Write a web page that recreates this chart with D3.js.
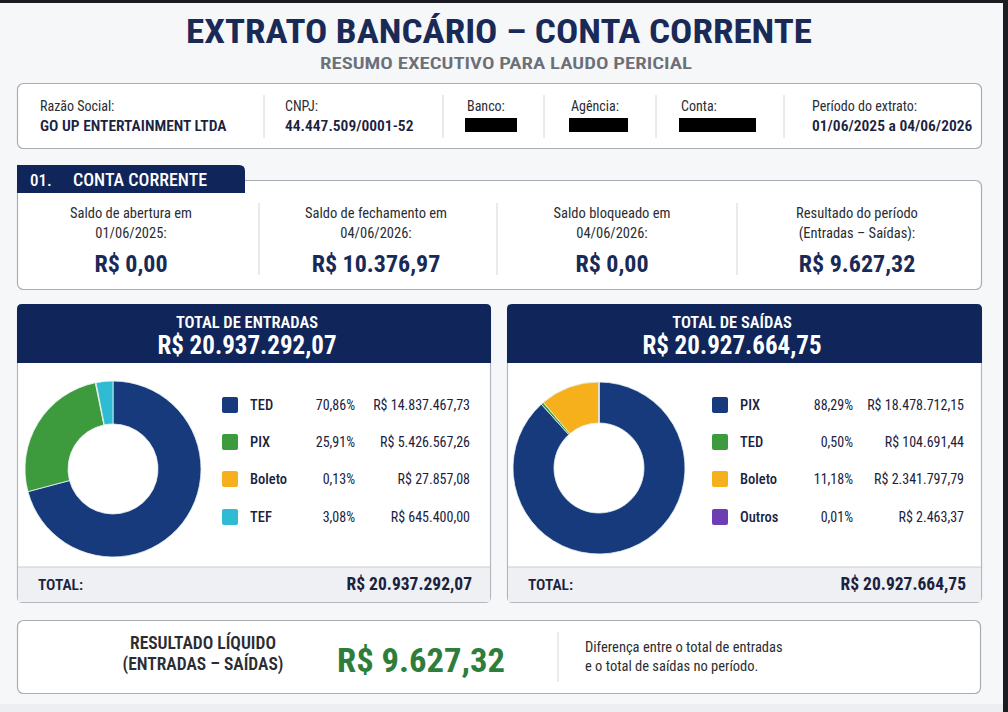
<!DOCTYPE html>
<html><head><meta charset="utf-8">
<script src="https://cdn.jsdelivr.net/npm/d3@7"></script>
<style>
html,body{margin:0;padding:0;background:#f6f7f9;}
svg{display:block;font-family:"Liberation Sans Narrow","Roboto Condensed","DejaVu Sans Condensed",sans-serif;}
</style></head>
<body><svg id="c" width="1008" height="712"></svg>
<script>
// ---- data ----
const title = "EXTRATO BANCÁRIO – CONTA CORRENTE";
const subtitle = "RESUMO EXECUTIVO PARA LAUDO PERICIAL";
const infoLabels = ["Razão Social:", "CNPJ:", "Banco:", "Agência:", "Conta:", "Período do extrato:"];
const infoValues = ["GO UP ENTERTAINMENT LTDA", "44.447.509/0001-52", null, null, null, "01/06/2025 a 04/06/2026"];
const saldoLabels1 = ["Saldo de abertura em", "Saldo de fechamento em", "Saldo bloqueado em", "Resultado do período"];
const saldoLabels2 = ["01/06/2025:", "04/06/2026:", "04/06/2026:", "(Entradas – Saídas):"];
const saldoValues = ["R$ 0,00", "R$ 10.376,97", "R$ 0,00", "R$ 9.627,32"];
const entCats = ["TED", "PIX", "Boleto", "TEF"];
const entPct = ["70,86%", "25,91%", "0,13%", "3,08%"];
const entVals = [14837467.73, 5426567.26, 27857.08, 645400.00];
const entValTxt = ["R$ 14.837.467,73", "R$ 5.426.567,26", "R$ 27.857,08", "R$ 645.400,00"];
const entTotal = "R$ 20.937.292,07";
const saiCats = ["PIX", "TED", "Boleto", "Outros"];
const saiPct = ["88,29%", "0,50%", "11,18%", "0,01%"];
const saiVals = [18478712.15, 104691.44, 2341797.79, 2463.37];
const saiValTxt = ["R$ 18.478.712,15", "R$ 104.691,44", "R$ 2.341.797,79", "R$ 2.463,37"];
const saiTotal = "R$ 20.927.664,75";
const resultado = "R$ 9.627,32";

const NAVY = "#10265a";
const colEnt = ["#173a7c", "#3d9a3d", "#f6b01c", "#2fbcd3"];
const colSai = ["#173a7c", "#3d9a3d", "#f6b01c", "#6b3fb3"];

const svg = d3.select("#c");
svg.append("rect").attr("width",1008).attr("height",712).attr("fill","#f6f7f9");
// frame
svg.append("rect").attr("x",0).attr("y",0).attr("width",1008).attr("height",3).attr("fill","#1c1c22");
svg.append("rect").attr("x",1003).attr("y",0).attr("width",5).attr("height",712).attr("fill","#1c1c22");
svg.append("rect").attr("x",0).attr("y",704).attr("width",1003).attr("height",8).attr("fill","#eceef1");

function txt(x,y,s,o={}){
  const t = svg.append("text").attr("x",x).attr("y",y).text(s)
    .attr("font-size",o.size||13).attr("font-weight",o.weight||"normal")
    .attr("fill",o.fill||"#222").attr("text-anchor",o.anchor||"start");
  if(o.w){ t.attr("textLength",o.w).attr("lengthAdjust","spacingAndGlyphs"); }
  return t;
}

// title
txt(499,43,title,{size:34,weight:"bold",fill:"#1a2a57",anchor:"middle",w:626});
txt(506,69,subtitle,{size:17,weight:"600",fill:"#6b6f78",anchor:"middle",w:372});

// info box
svg.append("rect").attr("x",17.5).attr("y",83.5).attr("width",964).attr("height",65).attr("rx",6)
  .attr("fill","#fff").attr("stroke","#a9adb3").attr("stroke-width",1.2);
const infoX = [40, 285, 467, 571, 681, 812];
const divX = [264, 443, 544, 656, 784];
divX.forEach(x=>svg.append("line").attr("x1",x).attr("x2",x).attr("y1",95).attr("y2",138).attr("stroke","#d3d6db"));
const boxW = [0,0,52,59,77,0];
infoLabels.forEach((l,i)=>{
  txt(infoX[i],111,l,{size:14,fill:"#2a2d33"});
  if(infoValues[i]) txt(infoX[i],131,infoValues[i],{size:15.5,weight:"600",fill:"#1a2240"});
  else svg.append("rect").attr("x",infoX[i]-2).attr("y",118).attr("width",boxW[i]).attr("height",14).attr("fill","#000");
});

// conta corrente box
svg.append("rect").attr("x",17.5).attr("y",180.5).attr("width",964).attr("height",109).attr("rx",6)
  .attr("fill","#fff").attr("stroke","#a9adb3").attr("stroke-width",1.2);
svg.append("path").attr("d","M17,193 L17,165 L239,165 Q245,165 245,171 L245,193 Z").attr("fill",NAVY);
txt(30,186,"01.",{size:17,weight:"500",fill:"#fff"});
txt(73,186,"CONTA CORRENTE",{size:18,weight:"500",fill:"#fff"});
const sx = [131, 376, 612, 857];
[259, 497, 737].forEach(x=>svg.append("line").attr("x1",x).attr("x2",x).attr("y1",203).attr("y2",275).attr("stroke","#d3d6db"));
sx.forEach((x,i)=>{
  txt(x,218,saldoLabels1[i],{size:14.5,fill:"#2a2d33",anchor:"middle"});
  txt(x,238,saldoLabels2[i],{size:14.5,fill:"#2a2d33",anchor:"middle"});
  txt(x,272,saldoValues[i],{size:24,weight:"bold",fill:"#1a2a57",anchor:"middle"});
});

// cards
function card(x0, w, mx, head, total, cats, pcts, vals, valTxt, cols, cx, cy, ro, ri, lx, pctR, valR){
  svg.append("rect").attr("x",x0+0.5).attr("y",304.5).attr("width",w).attr("height",298).attr("rx",5)
    .attr("fill","#fff").attr("stroke","#b4b8be").attr("stroke-width",1.2);
  svg.append("path").attr("d",`M${x0},363 L${x0},309 Q${x0},304 ${x0+5},304 L${x0+w-4},304 Q${x0+w+1},304 ${x0+w+1},309 L${x0+w+1},363 Z`).attr("fill",NAVY);
  txt(mx,328,head,{size:16.5,weight:"600",fill:"#fff",anchor:"middle"});
  txt(mx,354,total,{size:25,weight:"bold",fill:"#fff",anchor:"middle"});
  svg.append("rect").attr("x",x0+1).attr("y",567).attr("width",w-1).attr("height",35).attr("fill","#eef0f3");
  svg.append("line").attr("x1",x0+1).attr("x2",x0+w).attr("y1",567).attr("y2",567).attr("stroke","#c9ccd1");
  txt(x0+21,590,"TOTAL:",{size:15.5,weight:"600",fill:"#1a2240"});
  txt(valR+2,590,total,{size:17.5,weight:"bold",fill:"#1a2240",anchor:"end"});
  const pie = d3.pie().sort(null).value(d=>d)(vals);
  const arc = d3.arc().innerRadius(ri).outerRadius(ro);
  svg.append("g").attr("transform",`translate(${cx},${cy})`).selectAll("path").data(pie).join("path")
    .attr("d",arc).attr("fill",(d,i)=>cols[i]).attr("stroke","#e9f3f0").attr("stroke-width",0.8);
  const ys = [405, 442, 479, 517];
  cats.forEach((c,i)=>{
    svg.append("rect").attr("x",lx).attr("y",ys[i]-8).attr("width",16).attr("height",16).attr("rx",2).attr("fill",cols[i]);
    txt(lx+28,ys[i]+5,c,{size:14.5,weight:"500",fill:"#1a2240"});
    txt(pctR,ys[i]+5,pcts[i],{size:14,fill:"#1a2240",anchor:"end"});
    txt(valR,ys[i]+5,valTxt[i],{size:14,fill:"#1a2240",anchor:"end"});
  });
}
card(17, 473, 247, "TOTAL DE ENTRADAS", entTotal, entCats, entPct, entVals, entValTxt, colEnt, 113, 469, 88, 45, 222, 355, 470);
card(507, 474, 732, "TOTAL DE SAÍDAS", saiTotal, saiCats, saiPct, saiVals, saiValTxt, colSai, 599, 468, 86, 45, 712, 853, 964);

// resultado
svg.append("rect").attr("x",17.5).attr("y",620.5).attr("width",963).attr("height",73).attr("rx",6)
  .attr("fill","#fff").attr("stroke","#a9adb3").attr("stroke-width",1.2);
txt(203,649,"RESULTADO LÍQUIDO",{size:17.5,weight:"600",fill:"#2a2d33",anchor:"middle"});
txt(203,670,"(ENTRADAS – SAÍDAS)",{size:17.5,weight:"600",fill:"#2a2d33",anchor:"middle"});
txt(421,672,resultado,{size:34,weight:"bold",fill:"#2e7d3a",anchor:"middle",w:168});
svg.append("line").attr("x1",558).attr("x2",558).attr("y1",632).attr("y2",682).attr("stroke","#d3d6db");
txt(585,652,"Diferença entre o total de entradas",{size:14.5,fill:"#2a2d33"});
txt(585,671,"e o total de saídas no período.",{size:14.5,fill:"#2a2d33"});
</script></body></html>
